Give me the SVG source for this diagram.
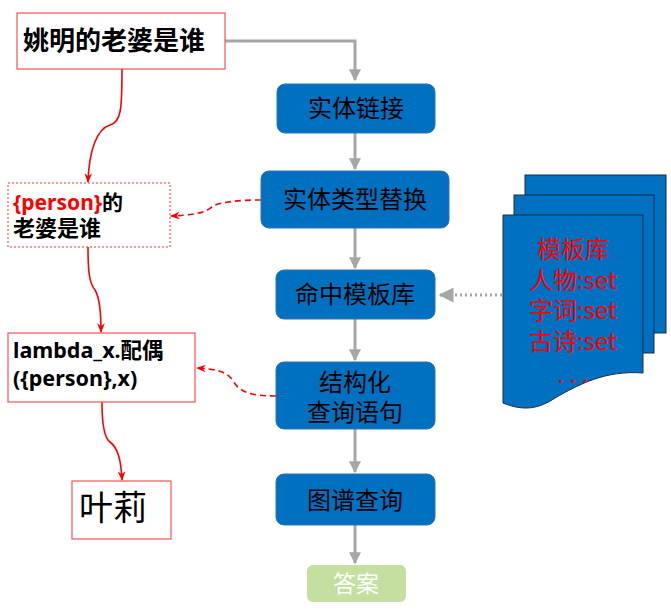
<svg xmlns="http://www.w3.org/2000/svg" width="671" height="615" viewBox="0 0 671 615">
<defs>
<marker id="ag" viewBox="0 0 10 10" refX="9" refY="5" markerWidth="4" markerHeight="4" orient="auto-start-reverse" markerUnits="strokeWidth"><path d="M0,0 L10,5 L0,10 z" fill="#A6A6A6"/></marker>
<marker id="agd" viewBox="0 0 10 10" refX="9" refY="5" markerWidth="5" markerHeight="5" orient="auto" markerUnits="strokeWidth"><path d="M0,0 L10,5 L0,10 z" fill="#A6A6A6"/></marker>
<marker id="ar" viewBox="0 0 10 10" refX="9" refY="5" markerWidth="6" markerHeight="6" orient="auto" markerUnits="strokeWidth"><path d="M0,1 L10,5 L0,9 L3,5 z" fill="#FF0000"/></marker>
</defs>
<style>
.blue{fill:#0070C0;stroke:#2E75B6;stroke-width:1}
.bt{font-family:"Noto Sans CJK SC","Liberation Sans",sans-serif;font-size:24px;fill:#000;text-anchor:middle}
.bold{font-family:"Noto Sans","Noto Sans CJK SC",sans-serif;font-weight:bold;fill:#000}
.rbox{fill:#fff;stroke:#FF5050;stroke-width:1.2}
.gl{fill:none;stroke:#A6A6A6;stroke-width:3}
.rl{fill:none;stroke:#FF0000;stroke-width:1.6}
.rd{fill:none;stroke:#FF0000;stroke-width:1.6;stroke-dasharray:6 4}
.doc{fill:#0070C0;stroke:#1F2A44;stroke-width:1}
.dt{font-family:"Noto Sans CJK SC","Liberation Sans",sans-serif;font-size:24px;fill:#FF0000;text-anchor:middle}
</style>
<rect width="671" height="615" fill="#fff"/>
<g id="connectors">
<path class="gl" d="M225,41 H355 V80" marker-end="url(#ag)"/>
<path class="gl" d="M355,133 V169" marker-end="url(#ag)"/>
<path class="gl" d="M355,228 V268" marker-end="url(#ag)"/>
<path class="gl" d="M355,319 V360" marker-end="url(#ag)"/>
<path class="gl" d="M355,429 V472" marker-end="url(#ag)"/>
<path class="gl" d="M355,525 V563" marker-end="url(#ag)"/>
<path d="M502,295 H440" fill="none" stroke="#A6A6A6" stroke-width="3" stroke-dasharray="2 3" marker-end="url(#agd)"/>
<path class="rl" d="M122,69 C122,110 121,122 110,125 C97,129 89,150 88,182" marker-end="url(#ar)"/>
<path class="rl" d="M88,247 C88,270 89,283 95,290 C100,298 101,315 101,332" marker-end="url(#ar)"/>
<path class="rl" d="M102,402 C102,425 104,438 110,442 C118,448 121,460 122,480" marker-end="url(#ar)"/>
<path class="rd" d="M261,200 C240,200 220,202 213,206 C205,214 190,215 171,216" marker-end="url(#ar)"/>
<path class="rd" d="M276,396 C250,396 240,392 233,381 C227,371 215,369 197,368" marker-end="url(#ar)"/>
</g>
<g id="n-question">
<rect class="rbox" x="17" y="13" width="208" height="56"/>
<text class="bold" x="23" y="50" font-size="26">姚明的老婆是谁</text>
</g>
<g id="n-template">
<rect x="8" y="183" width="162" height="64" fill="#fff" stroke="#FF3030" stroke-width="1" stroke-dasharray="2 2"/>
<text class="bold" x="13" y="210" font-size="21"><tspan fill="#FF0000">{person}</tspan>的</text>
<text class="bold" x="13" y="236" font-size="22">老婆是谁</text>
</g>
<g id="n-lambda">
<rect class="rbox" x="8" y="333" width="187" height="69"/>
<text class="bold" x="13" y="358" font-size="21.5">lambda_x.配偶</text>
<text class="bold" x="13" y="386" font-size="21.5">({person},x)</text>
</g>
<g id="n-answer-yl">
<rect class="rbox" x="72" y="481" width="99" height="58"/>
<text x="79" y="520" font-family="Noto Sans CJK SC, sans-serif" font-size="34" fill="#000">叶莉</text>
</g>
<g id="n-el">
<rect class="blue" x="277" y="84" width="158" height="49" rx="8"/>
<text class="bt" x="356" y="117">实体链接</text>
</g>
<g id="n-etr">
<rect class="blue" x="261" y="171" width="188" height="57" rx="8"/>
<text class="bt" x="355" y="208">实体类型替换</text>
</g>
<g id="n-hit">
<rect class="blue" x="276" y="270" width="159" height="49" rx="8"/>
<text class="bt" x="355" y="303">命中模板库</text>
</g>
<g id="n-sq">
<rect class="blue" x="276" y="362" width="159" height="67" rx="8"/>
<text class="bt" x="355" y="391" font-size="23">结构化</text>
<text class="bt" x="355" y="421" font-size="23">查询语句</text>
</g>
<g id="n-gq">
<rect class="blue" x="276" y="474" width="159" height="51" rx="8"/>
<text class="bt" x="355" y="509">图谱查询</text>
</g>
<g id="n-ans">
<rect x="307" y="565" width="99" height="37" rx="6" fill="#C5DFA0"/>
<text x="356" y="592" font-family="Noto Sans CJK SC, sans-serif" font-size="23" fill="#fff" text-anchor="middle">答案</text>
</g>
<g id="n-lib">
<rect class="doc" x="525" y="175" width="141" height="158"/>
<rect class="doc" x="514" y="195" width="140" height="158"/>
<path class="doc" d="M503,215 H643 V373 C605,370 578,385 555,398 C540,408 525,412 503,403 Z"/>
<text class="dt" x="573" y="258">模板库</text>
<text class="dt" x="573" y="289">人物:set</text>
<text class="dt" x="573" y="319">字词:set</text>
<text class="dt" x="573" y="350">古诗:set</text>
<text class="dt" x="573" y="383" font-size="20">. . .</text>
</g>
</svg>
